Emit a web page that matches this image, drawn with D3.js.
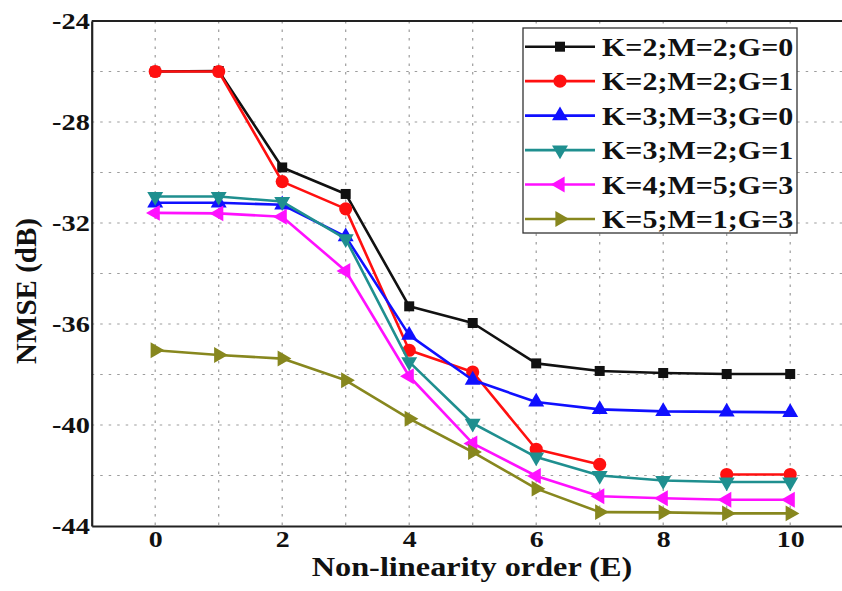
<!DOCTYPE html>
<html>
<head>
<meta charset="utf-8">
<script src="https://cdn.jsdelivr.net/npm/d3@7"></script>
<style>
  html, body { margin: 0; padding: 0; background: #fff; }
  svg { display: block; }
  text { font-family: "Liberation Serif", "Times New Roman", serif; font-weight: bold; fill: #111; }
</style>
</head>
<body>
<svg id="chart" width="842" height="591"></svg>
<script>
// Non-linearity order E
const orders = [0, 1, 2, 3, 4, 5, 6, 7, 8, 9, 10];

// NMSE (dB) for each (K, M, G) configuration
const nmseK2M2G0 = [-26.0, -25.98, -29.8, -30.85, -35.3, -35.96, -37.56, -37.86, -37.94, -37.98, -37.98];
const nmseK2M2G1 = [-26.0, -26.0, -30.36, -31.44, -37.04, -37.9, -40.96, -41.56, null, -41.96, -41.96];
const nmseK3M3G0 = [-31.2, -31.2, -31.28, -32.54, -36.44, -38.22, -39.09, -39.38, -39.46, -39.48, -39.5];
const nmseK3M2G1 = [-30.95, -30.95, -31.15, -32.63, -37.5, -39.93, -41.27, -42.0, -42.2, -42.26, -42.26];
const nmseK4M5G3 = [-31.6, -31.62, -31.75, -33.9, -38.07, -40.73, -42.02, -42.82, -42.9, -42.96, -42.96];
const nmseK5M1G3 = [-37.04, -37.23, -37.37, -38.23, -39.75, -41.07, -42.52, -43.45, -43.46, -43.5, -43.5];

const seriesNames = ["K=2;M=2;G=0", "K=2;M=2;G=1", "K=3;M=3;G=0", "K=3;M=2;G=1", "K=4;M=5;G=3", "K=5;M=1;G=3"];
const seriesValues = [nmseK2M2G0, nmseK2M2G1, nmseK3M3G0, nmseK3M2G1, nmseK4M5G3, nmseK5M1G3];
const seriesColors = ["#111111", "#ff1010", "#1010ff", "#1f8f8f", "#ff10ff", "#87871e"];
const seriesMarkers = ["square", "circle", "up", "down", "left", "right"];

const xTicks = [0, 2, 4, 6, 8, 10];
const yTicks = [-24, -28, -32, -36, -40, -44];
const xGrid = [0, 1, 2, 3, 4, 5, 6, 7, 8, 9, 10];
const yGrid = [-26, -28, -30, -32, -34, -36, -38, -40, -42];

const svg = d3.select("#chart");
const plotLeft = 91.7, plotTop = 21, plotBottom = 526, plotRight = 853.7;

const x = d3.scaleLinear().domain([-1, 11]).range([plotLeft, plotRight]);
const y = d3.scaleLinear().domain([-44, -24]).range([plotBottom, plotTop]);

// dotted grid
const grid = svg.append("g").attr("stroke", "#9c9c9c").attr("stroke-width", 1.2)
  .attr("stroke-dasharray", "2.5,6");
grid.selectAll("line.v").data(xGrid).join("line").attr("class", "v")
  .attr("x1", d => x(d)).attr("x2", d => x(d)).attr("y1", plotTop).attr("y2", plotBottom);
grid.selectAll("line.h").data(yGrid).join("line").attr("class", "h")
  .attr("x1", plotLeft).attr("x2", 842).attr("y1", d => y(d)).attr("y2", d => y(d));

// frame: top border
svg.append("line").attr("x1", plotLeft).attr("x2", 842).attr("y1", plotTop).attr("y2", plotTop)
  .attr("stroke", "#222").attr("stroke-width", 2);

// axes
const xAxis = svg.append("g").attr("transform", `translate(0,${plotBottom})`)
  .call(d3.axisBottom(x).tickValues(xTicks).tickSize(0).tickPadding(5).tickFormat(d3.format("d")));
const yAxis = svg.append("g").attr("transform", `translate(${plotLeft},0)`)
  .call(d3.axisLeft(y).tickValues(yTicks).tickSize(0).tickPadding(1.5).tickFormat(d => String(d)));
[xAxis, yAxis].forEach(a => {
  a.select(".domain").attr("stroke", "#222").attr("stroke-width", 2.2);
  a.selectAll("text").attr("font-size", 22.5).attr("font-family", "Liberation Serif, serif")
    .attr("font-weight", "bold").attr("fill", "#111");
});
xAxis.selectAll(".tick text").attr("transform", "scale(1.24,1)");
yAxis.selectAll(".tick text").attr("transform", "scale(1.26,1)");

// axis titles
svg.append("text").attr("transform", "translate(472,575.5) scale(1.22,1)")
  .attr("text-anchor", "middle").attr("font-size", 26.5).text("Non-linearity order (E)");
svg.append("text").attr("transform", "translate(36,291) rotate(-90)")
  .attr("text-anchor", "middle").attr("font-size", 29).text("NMSE (dB)");

// marker shapes
function markerPath(kind) {
  if (kind === "square") return d3.symbol(d3.symbolSquare, 100)();
  if (kind === "circle") return d3.symbol(d3.symbolCircle, 135)();
  return d3.symbol(d3.symbolTriangle, 110)();
}
function markerRotate(kind) {
  return { up: 0, down: 180, left: -90, right: 90 }[kind] || 0;
}

const line = d3.line().defined(d => d[1] !== null).x(d => x(d[0])).y(d => y(d[1]));

seriesValues.forEach((vals, i) => {
  const pts = orders.map((o, j) => [o, vals[j]]);
  const g = svg.append("g");
  g.append("path").datum(pts).attr("d", line).attr("fill", "none")
    .attr("stroke", seriesColors[i]).attr("stroke-width", 2.6).attr("stroke-linejoin", "round");
  g.selectAll("path.m").data(pts.filter(d => d[1] !== null)).join("path").attr("class", "m")
    .attr("d", markerPath(seriesMarkers[i]))
    .attr("transform", d => `translate(${x(d[0])},${y(d[1])}) rotate(${markerRotate(seriesMarkers[i])})`)
    .attr("fill", seriesColors[i]);
});

// legend
const legend = svg.append("g");
legend.append("rect").attr("x", 523).attr("y", 28).attr("width", 274).attr("height", 205)
  .attr("fill", "#fff").attr("stroke", "#333").attr("stroke-width", 1.3);
const rowY = d3.scaleLinear().domain([0, 5]).range([46.7, 219]);
seriesNames.forEach((name, i) => {
  const yy = rowY(i);
  legend.append("line").attr("x1", 525).attr("x2", 595).attr("y1", yy).attr("y2", yy)
    .attr("stroke", seriesColors[i]).attr("stroke-width", 2.6);
  legend.append("path").attr("d", markerPath(seriesMarkers[i]))
    .attr("transform", `translate(560,${yy}) rotate(${markerRotate(seriesMarkers[i])})`)
    .attr("fill", seriesColors[i]);
  legend.append("text").attr("transform", `translate(602,${yy + 9}) scale(1.2,1)`)
    .attr("font-size", 25).text(name);
});
</script>
</body>
</html>
